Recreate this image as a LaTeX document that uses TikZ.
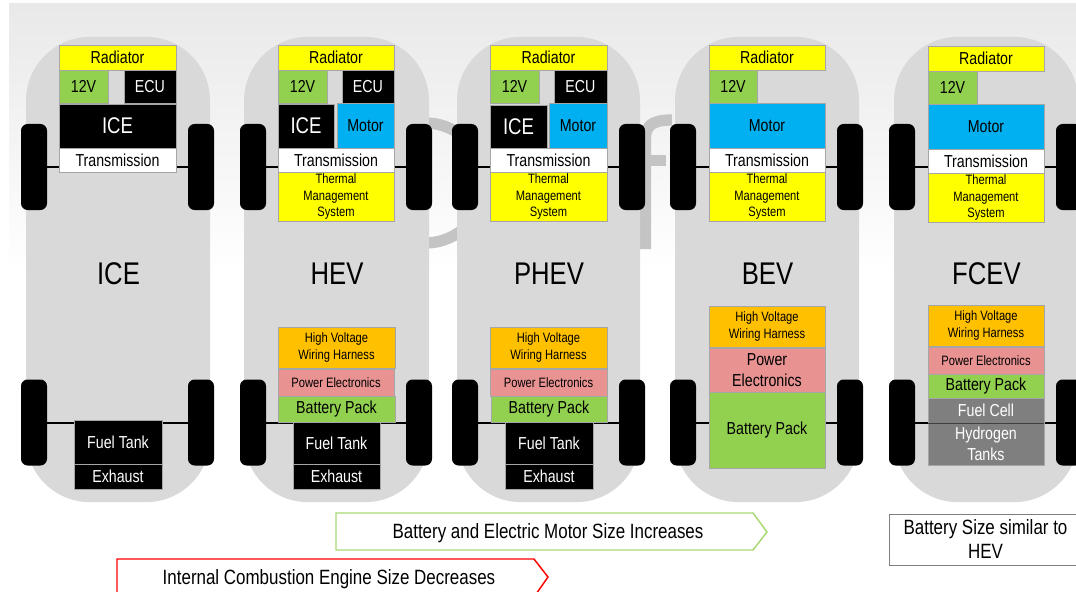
\documentclass[tikz,border=0pt]{standalone}
\usepackage{fontspec}
\setmainfont[FakeStretch=0.82]{Liberation Sans}
\definecolor{bgtop}{HTML}{E9E9E9}
\definecolor{bodygrey}{HTML}{D9D9D9}
\definecolor{edgegrey}{HTML}{A6A6A6}
\definecolor{markgrey}{HTML}{C4C4C4}
\definecolor{partyellow}{HTML}{FFFF00}
\definecolor{partgreen}{HTML}{92D050}
\definecolor{partblue}{HTML}{00B0F0}
\definecolor{partorange}{HTML}{FFC000}
\definecolor{partpink}{HTML}{E89292}
\definecolor{partgrey}{HTML}{7F7F7F}
\tikzset{
  partbox/.style={draw=edgegrey, line width=0.6pt, inner sep=0pt, align=center, font=\fontsize{13}{15}\selectfont},
  yellowbox/.style={partbox, fill=partyellow},
  greenbox/.style={partbox, fill=partgreen},
  bluebox/.style={partbox, fill=partblue},
  blackbox/.style={partbox, fill=black, text=white},
  whitebox/.style={partbox, fill=white},
  orangebox/.style={partbox, fill=partorange},
  pinkbox/.style={partbox, fill=partpink},
  greybox/.style={partbox, fill=partgrey, text=white},
  smalltext/.style={font=\fontsize{10.2}{12.5}\selectfont},
  linestext/.style={font=\fontsize{10.2}{12.6}\selectfont, execute at begin node=\rule{0pt}{11pt}},
  widetext/.style={font=\fontsize{13}{15.5}\selectfont},
  icetext/.style={font=\fontsize{17}{20}\selectfont},
  carbody/.style={fill=bodygrey, rounded corners=48pt, inner sep=0pt},
  wheelbox/.style={fill=black, rounded corners=5pt, inner sep=0pt, minimum width=19.5pt, minimum height=64.5pt},
  axle/.style={line width=1.5pt},
  cartitle/.style={font=\fontsize{23.5}{28}\selectfont},
  watermark/.style={draw=markgrey, line width=8.5pt},
  notetext/.style={font=\fontsize{15.5}{18}\selectfont, align=center}
}
% name, style, x1, y1, x2, y2, text
\newcommand{\carpart}[7]{
  \node[#2, minimum width={(#5-#3)*0.75pt}, minimum height={(#6-#4)*0.75pt}] (#1) at ({(#3+#5)/2},{(#4+#6)/2}) {#7};
}
\begin{document}
\begin{tikzpicture}[x=0.75pt, y=-0.75pt]
  \useasboundingbox (0,0) rectangle (1076,592);
  \clip (0,0) rectangle (1076,592);
  \fill[white] (0,0) rectangle (1076,592);
  \shade[top color=bgtop, bottom color=white] (9,4) rectangle (1076,272);
  % letters behind the cars
  \draw[watermark] (425,183) circle (60);
  \draw[watermark] (645.5,249) -- (645.5,138) .. controls (645.5,124) and (655,120) .. (672,120);
  \draw[watermark] (640,160.5) -- (666,160.5);
  % bodies, wheels and axles
  \foreach \car/\xa/\xb/\wa/\wb/\carname in {ice/26/210/34/201/ICE, hev/244/429/253/419/HEV, phev/457/640/465/632/PHEV, bev/675/859/683/850/BEV, fcev/894/1078/902/1069/FCEV}{
    \node[carbody, minimum width={(\xb-\xa)*0.75pt}, minimum height=349pt] (\car body) at ({(\xa+\xb)/2},269.5) {};
    \node[wheelbox] (\car FL) at (\wa,167) {};
    \node[wheelbox] (\car FR) at (\wb,167) {};
    \node[wheelbox] (\car RL) at (\wa,422.5) {};
    \node[wheelbox] (\car RR) at (\wb,422.5) {};
    \draw[axle] (\car FL) -- (\car FR);
    \draw[axle] (\car RL) -- (\car RR);
    \node[cartitle] (\car title) at ({(\xa+\xb)/2+0.5},274) {\carname};
  }
  % ICE
  \carpart{iceRad}{yellowbox}{59}{45}{176}{70}{Radiator}
  \carpart{iceLow}{greenbox}{59}{70}{108}{103}{12V}
  \carpart{iceEcu}{blackbox}{124}{70}{176}{103}{ECU}
  \carpart{iceEng}{blackbox, icetext}{59}{104}{176}{148}{ICE}
  \carpart{iceTrans}{whitebox}{59}{148}{176}{172}{Transmission}
  \carpart{iceTank}{blackbox}{74}{420}{162}{464}{Fuel Tank}
  \carpart{iceExh}{blackbox}{74}{464}{162}{489}{Exhaust}
  % HEV
  \carpart{hevRad}{yellowbox}{278}{45}{394}{70}{Radiator}
  \carpart{hevLow}{greenbox}{278}{70}{327}{103}{12V}
  \carpart{hevEcu}{blackbox}{342}{70}{394}{103}{ECU}
  \carpart{hevEng}{blackbox, icetext}{278}{104}{334}{148}{ICE}
  \carpart{hevMot}{bluebox}{337}{103}{394}{148}{Motor}
  \carpart{hevTrans}{whitebox}{278}{148}{394}{172}{Transmission}
  \carpart{hevTherm}{yellowbox, linestext}{278}{172}{394}{221}{Thermal\\Management\\System}
  \carpart{hevWire}{orangebox, linestext}{278}{327}{395}{368}{High Voltage\\Wiring Harness}
  \carpart{hevPow}{pinkbox, smalltext}{278}{369}{394}{396}{Power Electronics}
  \carpart{hevBat}{greenbox}{278}{396}{395}{422}{Battery Pack}
  \carpart{hevTank}{blackbox}{293}{422}{380}{464}{Fuel Tank}
  \carpart{hevExh}{blackbox}{293}{464}{380}{489}{Exhaust}
  % PHEV
  \carpart{phevRad}{yellowbox}{490}{45}{607}{70}{Radiator}
  \carpart{phevLow}{greenbox}{490}{70}{539}{103}{12V}
  \carpart{phevEcu}{blackbox}{554}{70}{607}{103}{ECU}
  \carpart{phevEng}{blackbox, icetext}{490}{105}{547}{148}{ICE}
  \carpart{phevMot}{bluebox}{549}{103}{607}{148}{Motor}
  \carpart{phevTrans}{whitebox}{490}{148}{607}{172}{Transmission}
  \carpart{phevTherm}{yellowbox, linestext}{490}{172}{607}{221}{Thermal\\Management\\System}
  \carpart{phevWire}{orangebox, linestext}{490}{327}{607}{368}{High Voltage\\Wiring Harness}
  \carpart{phevPow}{pinkbox, smalltext}{490}{369}{607}{396}{Power Electronics}
  \carpart{phevBat}{greenbox}{491}{396}{607}{422}{Battery Pack}
  \carpart{phevTank}{blackbox}{505}{422}{593}{464}{Fuel Tank}
  \carpart{phevExh}{blackbox}{505}{464}{593}{489}{Exhaust}
  % BEV
  \carpart{bevRad}{yellowbox}{709}{45}{825}{70}{Radiator}
  \carpart{bevLow}{greenbox}{709}{70}{757}{103}{12V}
  \carpart{bevMot}{bluebox}{709}{103}{825}{148}{Motor}
  \carpart{bevTrans}{whitebox}{709}{148}{825}{172}{Transmission}
  \carpart{bevTherm}{yellowbox, linestext}{709}{172}{825}{221}{Thermal\\Management\\System}
  \carpart{bevWire}{orangebox, linestext}{709}{306}{825}{347}{High Voltage\\Wiring Harness}
  \carpart{bevPow}{pinkbox, widetext}{709}{348}{825}{392}{Power\\Electronics}
  \carpart{bevBat}{greenbox}{709}{392}{825}{468}{Battery Pack}
  % FCEV
  \carpart{fcevRad}{yellowbox}{928}{46}{1044}{71}{Radiator}
  \carpart{fcevLow}{greenbox}{928}{71}{977}{104}{12V}
  \carpart{fcevMot}{bluebox}{928}{104}{1044}{149}{Motor}
  \carpart{fcevTrans}{whitebox}{928}{149}{1044}{173}{Transmission}
  \carpart{fcevTherm}{yellowbox, linestext}{928}{173}{1044}{222}{Thermal\\Management\\System}
  \carpart{fcevWire}{orangebox, linestext}{928}{305}{1044}{346}{High Voltage\\Wiring Harness}
  \carpart{fcevPow}{pinkbox, smalltext}{928}{347}{1044}{374}{Power Electronics}
  \carpart{fcevBat}{greenbox}{928}{374}{1044}{398}{Battery Pack}
  \carpart{fcevCell}{greybox}{928}{398}{1044}{423}{Fuel Cell}
  \carpart{fcevTanks}{greybox, widetext}{928}{423}{1044}{465}{Hydrogen\\Tanks}
  \draw[line width=1pt, black!75] (fcevCell.south west) -- (fcevCell.south east);
  % trend arrows and note
  \draw[draw=partgreen!80!white, line width=1.1pt, fill=white] (336,513) -- (753,513) -- (767,532) -- (753,550) -- (336,550) -- cycle;
  \node[notetext] (growText) at (548,533) {Battery and Electric Motor Size Increases};
  \draw[draw=red, line width=1.1pt, fill=white] (117,600) -- (117,559) -- (534,559) -- (548,577) -- (534,597) -- (534,600);
  \node[notetext] (shrinkText) at (329,579) {Internal Combustion Engine Size Decreases};
  \node[draw=partgrey, line width=1pt, fill=white, minimum width=150pt, minimum height=38.5pt, inner sep=0pt, anchor=north west] (noteBox) at (889,513.5) {};
  \node[notetext] (noteText) at (985.5,539) {Battery Size similar to\\HEV};
\end{tikzpicture}
\end{document}
